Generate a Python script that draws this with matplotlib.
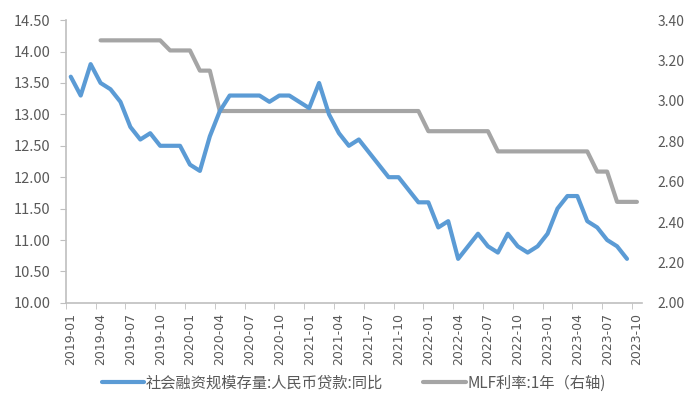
import matplotlib
matplotlib.use("Agg")
import matplotlib.pyplot as plt
import numpy as np

plt.rcParams['font.family'] = ['Noto Sans CJK SC', 'DejaVu Sans']

# monthly categories 2019-01 .. 2023-10
months = [f"{y}-{m:02d}" for y in range(2019, 2024) for m in range(1, 13)][:58]

# 社会融资规模存量:人民币贷款:同比 (left axis, %)
loan_yoy = [13.6, 13.3, 13.8, 13.5, 13.4, 13.2, 12.8, 12.6, 12.7, 12.5, 12.5, 12.5,
            12.2, 12.1, 12.65, 13.05, 13.3, 13.3, 13.3, 13.3, 13.2, 13.3, 13.3, 13.2,
            13.1, 13.5, 13.0, 12.7, 12.5, 12.6, 12.4, 12.2, 12.0, 12.0, 11.8, 11.6,
            11.6, 11.2, 11.3, 10.7, 10.9, 11.1, 10.9, 10.8, 11.1, 10.9, 10.8, 10.9,
            11.1, 11.5, 11.7, 11.7, 11.3, 11.2, 11.0, 10.9, 10.7, None]

# MLF利率:1年 (right axis, %)
mlf_1y = [None, None, None, 3.30, 3.30, 3.30, 3.30, 3.30, 3.30, 3.30, 3.25, 3.25,
          3.25, 3.15, 3.15, 2.95, 2.95, 2.95, 2.95, 2.95, 2.95, 2.95, 2.95, 2.95,
          2.95, 2.95, 2.95, 2.95, 2.95, 2.95, 2.95, 2.95, 2.95, 2.95, 2.95, 2.95,
          2.85, 2.85, 2.85, 2.85, 2.85, 2.85, 2.85, 2.75, 2.75, 2.75, 2.75, 2.75,
          2.75, 2.75, 2.75, 2.75, 2.75, 2.65, 2.65, 2.50, 2.50, 2.50]

blue = '#5B9BD5'
gray = '#A5A5A5'
txt = '#595959'
axcol = '#BFBFBF'

x = np.arange(len(months))
y1 = np.array([np.nan if v is None else v for v in loan_yoy])
y2 = np.array([np.nan if v is None else v for v in mlf_1y])

fig = plt.figure(figsize=(7, 4.2), dpi=100)
ax = fig.add_axes([0.094, 0.279, 0.823, 0.673])
ax2 = ax.twinx()

ax2.plot(x, y2, color=gray, lw=3, solid_capstyle='round', solid_joinstyle='round',
         label='MLF利率:1年（右轴)')
ax.plot(x, y1, color=blue, lw=3, solid_capstyle='round', solid_joinstyle='round',
        label='社会融资规模存量:人民币贷款:同比')
ax.set_zorder(ax2.get_zorder() + 1)
ax.patch.set_visible(False)

ax.set_xlim(-0.5, len(months) - 0.5)
ax.set_ylim(10, 14.5)
ax.set_yticks(np.arange(10, 14.51, 0.5))
ax.set_yticklabels([f"{v:.2f}" for v in np.arange(10, 14.51, 0.5)])
ax2.set_ylim(2.0, 3.4)
ax2.set_yticks(np.arange(2.0, 3.41, 0.2))
ax2.set_yticklabels([f"{v:.2f}" for v in np.arange(2.0, 3.41, 0.2)])

lab_idx = list(range(0, len(months), 3))
ax.set_xticks(lab_idx)
ax.set_xticklabels([months[i] for i in lab_idx], rotation=90, fontsize=9,
                   color=txt, family='DejaVu Sans')
ax.set_xticks([i - 0.5 for i in lab_idx], minor=True)
ax.tick_params(axis='x', which='major', length=0, pad=7)
ax.tick_params(axis='x', which='minor', length=4, color=axcol, direction='out')

ax.tick_params(axis='y', length=4, color=axcol, labelsize=10.5, labelcolor=txt, pad=7)
ax2.tick_params(axis='y', length=0, labelsize=10, labelcolor=txt, pad=11)

for a in (ax, ax2):
    for s in ('top', 'right'):
        a.spines[s].set_visible(False)
ax2.spines['left'].set_visible(False)
ax2.spines['bottom'].set_visible(False)
ax.spines['left'].set_color(axcol)
ax.spines['bottom'].set_color(axcol)
ax.spines['left'].set_linewidth(1.2)
ax.spines['bottom'].set_linewidth(1.2)

h1, l1 = ax.get_legend_handles_labels()
h2, l2 = ax2.get_legend_handles_labels()
leg = fig.legend(h1 + h2, l1 + l2, loc='center', bbox_to_anchor=(0.505, 0.088),
                 ncol=2, frameon=False, fontsize=11, handlelength=2.8,
                 handletextpad=0.1, columnspacing=2.6)
for t in leg.get_texts():
    t.set_color(txt)

fig.savefig('out.png', dpi=100)
